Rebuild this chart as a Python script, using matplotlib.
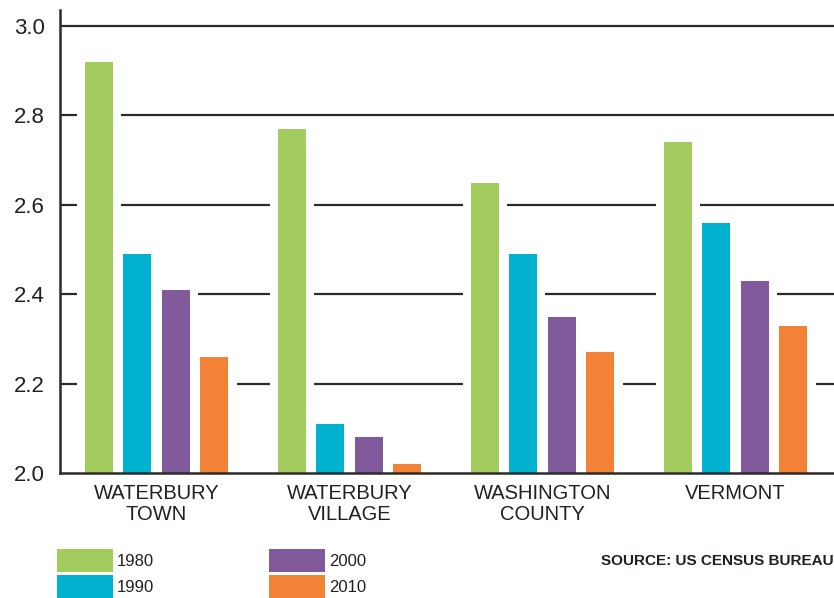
import numpy as np
import matplotlib
matplotlib.use('Agg')
import matplotlib.pyplot as plt
from matplotlib.patches import Patch

plt.rcParams['font.family'] = ['Liberation Sans Narrow', 'Liberation Sans', 'DejaVu Sans']

# ── data ──────────────────────────────────────────────────────────────────────
places = ['WATERBURY\nTOWN', 'WATERBURY\nVILLAGE', 'WASHINGTON\nCOUNTY', 'VERMONT']
years  = ['1980', '1990', '2000', '2010']
v1980  = [2.92, 2.77, 2.65, 2.74]
v1990  = [2.49, 2.11, 2.49, 2.56]
v2000  = [2.41, 2.08, 2.35, 2.43]
v2010  = [2.26, 2.02, 2.27, 2.33]
yticks = [2.0, 2.2, 2.4, 2.6, 2.8, 3.0]

COLORS = ['#a3cc5f', '#00b2cf', '#805a9a', '#f28235']
TXT    = '#231f20'

series = [v1980, v1990, v2000, v2010]

fig = plt.figure(figsize=(8.34, 5.98), dpi=100)
ax = fig.add_axes([60/834, 125/598, 774/834, 463/598])

x      = np.arange(len(places))
step   = 0.2
bar_w  = 0.145
pad    = 0.042   # white halo each side of a bar that breaks the gridlines

for i, (vals, col) in enumerate(zip(series, COLORS)):
    off = (i - 1.5) * step
    heights = np.array(vals) - 2.0
    ax.bar(x + off, heights + 0.004, bottom=2.0, width=bar_w + 2 * pad,
           color='white', linewidth=0, zorder=1.5)
    ax.bar(x + off, heights, bottom=2.0, width=bar_w,
           color=col, linewidth=0, zorder=3)

for yv in yticks[1:]:
    ax.axhline(yv, color='#2b2b2b', linewidth=1.6, zorder=1)

ax.set_xlim(-0.5, 3.51)
ax.set_ylim(2.0, 3.036)
ax.set_yticks(yticks)
ax.set_yticklabels([f'{v:.1f}' for v in yticks], fontsize=16, color=TXT)
ax.set_xticks(x)
ax.set_xticklabels(places, fontsize=14.5, color=TXT, linespacing=1.15)
ax.tick_params(axis='both', length=0)
ax.tick_params(axis='y', pad=11)
ax.tick_params(axis='x', pad=8)

for s in ['top', 'right']:
    ax.spines[s].set_visible(False)
for s in ['left', 'bottom']:
    ax.spines[s].set_linewidth(1.8)
    ax.spines[s].set_color('#2b2b2b')
    ax.spines[s].set_zorder(4)

handles = [Patch(facecolor=c, edgecolor='none') for c in COLORS]
fig.legend(handles, years, ncol=2, loc='upper left',
           bbox_to_anchor=(45/834, 1 - 537/598), frameon=False,
           fontsize=12, handlelength=3.35, handleheight=1.8,
           handletextpad=0.25, labelspacing=0.15, columnspacing=6.9,
           borderpad=0.2, labelcolor=TXT)

fig.text(1.0, 1 - 561/598, 'SOURCE: US CENSUS BUREAU', ha='right', va='center',
         fontsize=11, fontweight='bold', color=TXT)

fig.savefig('out.png', dpi=100)
